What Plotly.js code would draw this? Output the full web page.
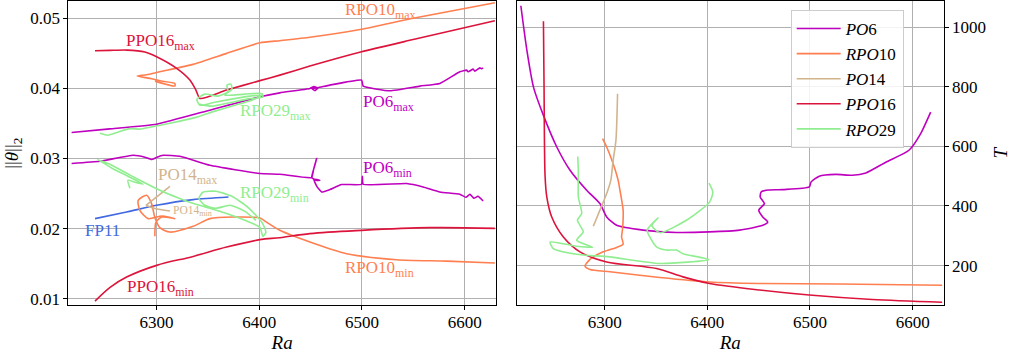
<!DOCTYPE html>
<html>
<head>
<meta charset="utf-8">
<script src="https://cdn.plot.ly/plotly-3.0.1.min.js"></script>
<style>html,body{margin:0;padding:0;background:#fff;}#chart{width:1018px;height:356px;}</style>
</head>
<body>
<div id="chart"></div>
<script>
// ---------- Data ----------
// Left panel: ||theta||_2 extrema vs Ra
const raPO6max = [6217.2, 6254.5, 6300, 6351.9, 6400.6, 6420, 6449.3, 6453.2, 6457.1, 6454.2, 6451.2, 6457.1, 6468.7, 6499.6, 6501.2, 6527.2, 6556.4, 6575.9, 6595.3, 6601.9, 6603.4, 6608.3, 6609.9, 6614.8, 6616.5, 6618];
const thPO6max = [0.03371, 0.03423, 0.0349, 0.0369, 0.0388, 0.03937, 0.04, 0.04026, 0.04004, 0.03969, 0.03997, 0.0401, 0.04047, 0.04119, 0.04033, 0.03966, 0.04033, 0.04071, 0.04237, 0.04261, 0.04237, 0.04276, 0.04247, 0.04294, 0.0428, 0.04294];
const raPO6min = [6217.2, 6244.8, 6277.2, 6288.6, 6295.1, 6300.3, 6306.4, 6322.7, 6351.9, 6400.6, 6420, 6451, 6452.7, 6455.8, 6454.1, 6451, 6455.1, 6459, 6453.1, 6456, 6460.7, 6468.7, 6480.1, 6499.6, 6500.4, 6501.2, 6543.4, 6559.6, 6575.9, 6595.3, 6601.2, 6605.1, 6609, 6612.9, 6618];
const thPO6min = [0.02929, 0.02961, 0.03047, 0.03019, 0.02986, 0.03019, 0.03047, 0.03033, 0.02904, 0.02786, 0.02776, 0.02729, 0.02833, 0.03, 0.02904, 0.02729, 0.0269, 0.0269, 0.02704, 0.02604, 0.02523, 0.02557, 0.02629, 0.02633, 0.02747, 0.02633, 0.02643, 0.02594, 0.02523, 0.0249, 0.02447, 0.0249, 0.02433, 0.02461, 0.02394];

const raRPO10max = [6298.4, 6317.8, 6317.8, 6303.2, 6293.5, 6281.1, 6290.3, 6303.2, 6335.6, 6368.2, 6400.6, 6420, 6449.3, 6499.6, 6549.9, 6629.4];
const thRPO10max = [0.04104, 0.04033, 0.04071, 0.04109, 0.04143, 0.04176, 0.04194, 0.04237, 0.04343, 0.045, 0.04651, 0.04681, 0.04729, 0.04843, 0.05, 0.05223];
const raRPO10min = [6298.3, 6299.4, 6305, 6317.8, 6305, 6291.8, 6283.7, 6282.1, 6290.3, 6295.1, 6298.3, 6303.2, 6313, 6335.6, 6351.9, 6374.6, 6400.6, 6407, 6420, 6449.3, 6485, 6533.7, 6582.4, 6629.4];
const thRPO10min = [0.0189, 0.02094, 0.02166, 0.02143, 0.0218, 0.02143, 0.02261, 0.02404, 0.02476, 0.02357, 0.0216, 0.02014, 0.01951, 0.02033, 0.02143, 0.02166, 0.02151, 0.02094, 0.01976, 0.01809, 0.01643, 0.01557, 0.01537, 0.01509];

const raPO14max = [6289.6, 6301.3, 6313];
const thPO14max = [0.02333, 0.02469, 0.02604];
const raPO14min = [6289.6, 6298.3, 6313];
const thPO14min = [0.02333, 0.02286, 0.02251];

const raPPO16max = [6240, 6254.6, 6270.8, 6288.6, 6300, 6319.5, 6332.4, 6338.3, 6342.2, 6368.2, 6400.6, 6420, 6449.3, 6499.6, 6549.9, 6629.4];
const thPPO16max = [0.04537, 0.04543, 0.04547, 0.04519, 0.04451, 0.04286, 0.04119, 0.03976, 0.03857, 0.03976, 0.04111, 0.0419, 0.04319, 0.04523, 0.04697, 0.04966];
const raPPO16min = [6240, 6255, 6270.8, 6300, 6335.6, 6368.2, 6400.6, 6420, 6449.3, 6499.6, 6566, 6629.4];
const thPPO16min = [0.00966, 0.01166, 0.01309, 0.01476, 0.01604, 0.01737, 0.01843, 0.01871, 0.01929, 0.01976, 0.02014, 0.02004];

const raRPO29max = [6244.8, 6252.6, 6262.3, 6274.0, 6283.7, 6293.5, 6313.0, 6335.3, 6356.8, 6376.3, 6392.8, 6402.6, 6390.8, 6373.3, 6356.8, 6342.2, 6339.2, 6347.0, 6359.7, 6369.4, 6368.5, 6372.3, 6373.3, 6366.5, 6386.0, 6402.6, 6403.5, 6390.8, 6373.3, 6353.8, 6341.2];
const thRPO29max = [0.03361, 0.03333, 0.03376, 0.03426, 0.03419, 0.03447, 0.03504, 0.03576, 0.03676, 0.03761, 0.03833, 0.03904, 0.0389, 0.03847, 0.03804, 0.03761, 0.03847, 0.03919, 0.0389, 0.03954, 0.04047, 0.04061, 0.0399, 0.03904, 0.03919, 0.03926, 0.03876, 0.03854, 0.03804, 0.03747, 0.03776];
const raRPO29min = [6274.0, 6272.1, 6278.9, 6286.7, 6272.1, 6256.5, 6244.8, 6242.8, 6254.5, 6269.1, 6283.7, 6303.2, 6320.7, 6335.3, 6351.9, 6367.5, 6386.0, 6400.6, 6403.5, 6406.4, 6402.6, 6389.0, 6373.3, 6357.7, 6345.1, 6341.2, 6347.0, 6357.7, 6371.4, 6386.0, 6396.7];
const thRPO29min = [0.02576, 0.0269, 0.02661, 0.02633, 0.02747, 0.02861, 0.02969, 0.02983, 0.02919, 0.02804, 0.0269, 0.02547, 0.0244, 0.02361, 0.0229, 0.02219, 0.02119, 0.02019, 0.0189, 0.01947, 0.0209, 0.02304, 0.02461, 0.02533, 0.02519, 0.02433, 0.02333, 0.0229, 0.02333, 0.02247, 0.02119];

const raFP11 = [6240, 6270.8, 6300, 6335.6, 6370];
const thFP11 = [0.02143, 0.02237, 0.02333, 0.02414, 0.02451];

// Right panel: period T vs Ra
const raPO6T = [6218.4, 6224.3, 6230.7, 6240.4, 6253.4, 6266.3, 6282.5, 6295.4, 6302, 6311.7, 6337.5, 6370, 6402, 6431.4, 6454, 6458.8, 6454, 6450.1, 6455.6, 6451.5, 6452.4, 6457.3, 6473.4, 6499.3, 6501, 6509, 6525.2, 6541.4, 6554.4, 6573.8, 6596.4, 6607.8, 6617.5];
const tPO6 = [1072, 922, 799, 704, 598, 520, 453, 408, 363, 335, 319, 311, 313, 319, 335, 346, 363, 386, 408, 430, 447, 453, 455, 464, 480, 500, 506, 503, 511, 547, 587, 643, 715];
const raRPO10T = [6298, 6302, 6308.3, 6313.2, 6314.9, 6318, 6317.5, 6316.5, 6318, 6311.7, 6298.6, 6285.7, 6280.9, 6285.7, 6305.1, 6353.7, 6402.2, 6450.8, 6528.4, 6628.7];
const tRPO10 = [626, 598, 542, 486, 453, 386, 324, 296, 272, 261, 246, 221, 198, 187, 179, 160, 145, 140, 138, 134];
const raPO14T = [6289, 6295.4, 6302, 6306, 6308.3, 6311, 6312.6];
const tPO14 = [332, 386, 442, 486, 553, 620, 777];
const raPPO16T = [6240.4, 6241, 6242, 6243.7, 6248.5, 6259.8, 6276, 6302, 6350.5, 6376.3, 6402.2, 6450.8, 6499.3, 6560.8, 6628.7];
const tPPO16 = [1020, 800, 500, 430, 363, 296, 246, 212, 190, 162, 140, 118, 101, 86, 77];
const raRPO29T = [6273.8, 6274.4, 6274.4, 6277.7, 6273.5, 6279.2, 6272.8, 6288.3, 6272.8, 6246.9, 6250, 6272.8, 6305, 6353.7, 6401.6, 6376.3, 6369.9, 6360, 6350.5, 6344, 6341.4, 6352, 6346, 6353.7, 6379.6, 6402.2, 6405.4, 6401.6];
const tRPO29 = [566, 520, 430, 375, 352, 313, 285, 261, 265, 279, 257, 238, 229, 207, 220, 240, 252, 252, 263, 296, 319, 360, 335, 310, 352, 413, 447, 477];

const xTicks = [6300, 6400, 6500, 6600];
const yTicksL = [0.01, 0.02, 0.03, 0.04, 0.05];
const yTicksR = [200, 400, 600, 800, 1000];

// Labels on the left panel: [text, Ra, theta, colour key, size]
const labels = [
  ['PPO16<sub>max</sub>', 6269.1, 0.04661, 'PPO16', 17],
  ['RPO10<sub>max</sub>', 6482.7, 0.05100, 'RPO10', 17],
  ['RPO29<sub>max</sub>', 6380.1, 0.03669, 'RPO29', 17],
  ['PO6<sub>max</sub>', 6499.9, 0.03797, 'PO6', 17],
  ['PO6<sub>min</sub>', 6499.9, 0.02857, 'PO6', 17],
  ['PO14<sub>max</sub>', 6300, 0.02744, 'PO14', 17],
  ['RPO29<sub>min</sub>', 6380.1, 0.02493, 'RPO29', 17],
  ['PO14<sub>min</sub>', 6314.6, 0.02247, 'PO14', 11.5],
  ['FP11', 6229.2, 0.01971, 'FP11', 17],
  ['RPO10<sub>min</sub>', 6482.7, 0.01423, 'RPO10', 17],
  ['PPO16<sub>min</sub>', 6269.8, 0.01157, 'PPO16', 17]
];

// ---------- Styling ----------
const col = {PO6: '#bf00bf', RPO10: '#ff7f50', PO14: '#d2b48c', PPO16: '#dc143c', RPO29: '#90ee90', FP11: '#4169e1'};
const FONT = 'Liberation Serif, Times New Roman, serif';
const LW = 1.6;

function line(x, y, c, xa, ya, name, show, smooth) {
  return {x: x, y: y, type: 'scatter', mode: 'lines', xaxis: xa, yaxis: ya,
          line: {color: col[c], width: LW, shape: 'spline', smoothing: smooth === undefined ? 0.7 : smooth},
          name: name || c, showlegend: !!show, hoverinfo: 'skip'};
}

const traces = [
  line(raFP11, thFP11, 'FP11', 'x', 'y'),
  line(raPO6max, thPO6max, 'PO6', 'x', 'y', null, false, 0.4),
  line(raPO6min, thPO6min, 'PO6', 'x', 'y', null, false, 0.4),
  line(raRPO10max, thRPO10max, 'RPO10', 'x', 'y', null, false, 0.5),
  line(raRPO10min, thRPO10min, 'RPO10', 'x', 'y'),
  line(raPO14max, thPO14max, 'PO14', 'x', 'y'),
  line(raPO14min, thPO14min, 'PO14', 'x', 'y'),
  line(raPPO16max, thPPO16max, 'PPO16', 'x', 'y', null, false, 0.6),
  line(raPPO16min, thPPO16min, 'PPO16', 'x', 'y', null, false, 1),
  line(raRPO29max, thRPO29max, 'RPO29', 'x', 'y', null, false, 0.6),
  line(raRPO29min, thRPO29min, 'RPO29', 'x', 'y', null, false, 0.6),
  line(raPO6T, tPO6, 'PO6', 'x2', 'y2', '<i>PO</i>6', true, 0.6),
  line(raRPO10T, tRPO10, 'RPO10', 'x2', 'y2', '<i>RPO</i>10', true, 0.6),
  line(raPO14T, tPO14, 'PO14', 'x2', 'y2', '<i>PO</i>14', true),
  line(raPPO16T, tPPO16, 'PPO16', 'x2', 'y2', '<i>PPO</i>16', true, 0.8),
  line(raRPO29T, tRPO29, 'RPO29', 'x2', 'y2', '<i>RPO</i>29', true, 0.6)
];

const axBase = {
  showgrid: true, gridcolor: '#b0b0b0', gridwidth: 1,
  showline: true, mirror: true, linecolor: '#000', linewidth: 1,
  zeroline: false, ticks: 'outside', ticklen: 4, tickwidth: 1, tickcolor: '#000',
  tickfont: {family: FONT, size: 17, color: '#000'}, automargin: false
};
const yDom = [0.1419, 0.9972];

const layout = {
  width: 1018, height: 356,
  margin: {l: 0, r: 0, t: 0, b: 0},
  paper_bgcolor: '#fff', plot_bgcolor: '#fff',
  font: {family: FONT, color: '#000'},
  xaxis: Object.assign({}, axBase, {domain: [0.0671, 0.4872], range: [6214, 6630.5], anchor: 'y',
    tickvals: xTicks, ticktext: xTicks.map(String), ticklabelstandoff: -3,
    title: {text: '<i>Ra</i>', font: {family: FONT, size: 19}, standoff: 2}}),
  yaxis: Object.assign({}, axBase, {domain: yDom, range: [0.00904, 0.05247], anchor: 'x',
    tickvals: yTicksL, ticktext: yTicksL.map(v => v.toFixed(2)),
    title: {text: '||<i>θ</i>||<sub>2</sub>', font: {family: FONT, size: 19}, standoff: 6}}),
  xaxis2: Object.assign({}, axBase, {domain: [0.5076, 0.927], range: [6214.4, 6630.2], anchor: 'y2',
    tickvals: xTicks, ticktext: xTicks.map(String), ticklabelstandoff: -3,
    title: {text: '<i>Ra</i>', font: {family: FONT, size: 19}, standoff: 2}}),
  yaxis2: Object.assign({}, axBase, {domain: yDom, range: [66, 1088], anchor: 'x2', side: 'right',
    tickvals: yTicksR, ticktext: yTicksR.map(String),
    title: {text: '<i>T</i>', font: {family: FONT, size: 19}, standoff: 8}}),
  legend: {x: 0.7767, y: 0.972, xanchor: 'left', yanchor: 'top', itemwidth: 44,
    bgcolor: 'rgba(255,255,255,0.85)', bordercolor: '#cccccc', borderwidth: 1,
    font: {family: FONT, size: 17, color: '#000'}},
  annotations: labels.map(l => ({
    text: l[0], x: l[1], y: l[2], xref: 'x', yref: 'y', xanchor: 'left', yanchor: 'middle',
    showarrow: false, font: {family: FONT, size: l[4], color: col[l[3]]}, borderpad: 0
  })),
  showlegend: true
};

Plotly.newPlot('chart', traces, layout, {displayModeBar: false, staticPlot: true});
</script>
</body>
</html>
